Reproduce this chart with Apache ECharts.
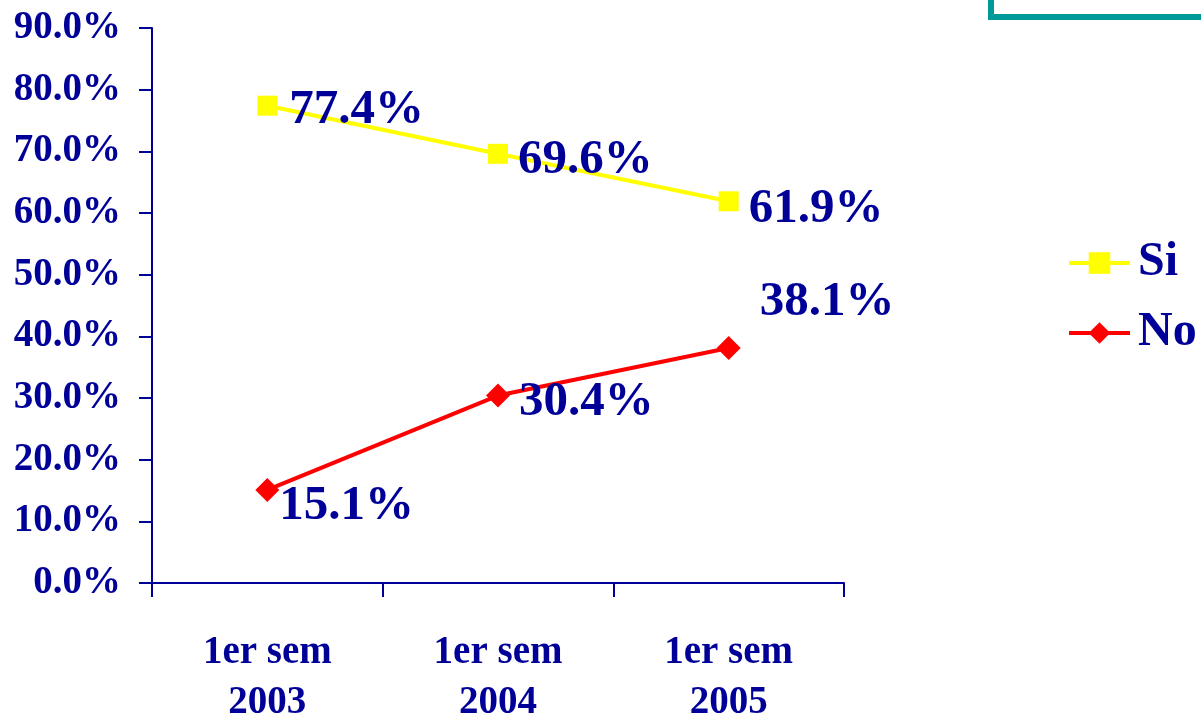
<!DOCTYPE html>
<html>
<head>
<meta charset="utf-8">
<script src="https://cdn.jsdelivr.net/npm/echarts@6/dist/echarts.min.js"></script>
<style>
html,body{margin:0;padding:0;background:#fff;}
#chart{width:1201px;height:718px;}
</style>
</head>
<body>
<div id="chart"></div>
<script>
var categories = ['1er sem\n2003', '1er sem\n2004', '1er sem\n2005'];
var siValues = [77.4, 69.6, 61.9];
var noValues = [15.1, 30.4, 38.1];
var yTicks = {min: 0, max: 90, interval: 10};

var siLabelOffsets = [[12, 5], [10, 7], [10, 8]];
var noLabelOffsets = [[0, 16], [9, 7], [19, -46]];

var NAVY = '#000099';
var FONT = '"Liberation Serif", "Times New Roman", serif';

function withOffsets(vals, offs) {
  return vals.map(function (v, i) {
    return { value: v, label: { offset: offs[i] } };
  });
}

var chart = echarts.init(document.getElementById('chart'));
chart.setOption({
  animation: false,
  backgroundColor: '#fff',
  grid: { left: 152, right: 357, top: 28, bottom: 135, containLabel: false, outerBoundsMode: 'none' },
  graphic: [{
    type: 'rect',
    shape: { x: 991, y: -30, width: 260, height: 47 },
    style: { fill: '#fff', stroke: '#009999', lineWidth: 6 },
    z: 10
  }],
  legend: {
    orient: 'vertical',
    left: 1067,
    top: 238,
    padding: 0,
    itemWidth: 61,
    itemHeight: 27,
    itemGap: 20,
    lineStyle: { width: 4 },
    textStyle: { color: NAVY, fontFamily: FONT, fontWeight: 'bold', fontSize: 48, lineHeight: 50, padding: [0, 0, 0, 3] },
    data: ['Si', 'No']
  },
  xAxis: {
    type: 'category',
    data: categories,
    boundaryGap: true,
    axisLine: { lineStyle: { color: NAVY, width: 2 } },
    axisTick: { show: true, length: 14, lineStyle: { color: NAVY, width: 2 } },
    axisLabel: { color: NAVY, fontFamily: FONT, fontWeight: 'bold', fontSize: 39, lineHeight: 50, margin: 45 },
    splitLine: { show: false }
  },
  yAxis: {
    type: 'value',
    min: yTicks.min,
    max: yTicks.max,
    interval: yTicks.interval,
    axisLine: { show: true, lineStyle: { color: NAVY, width: 2 } },
    axisTick: { show: true, length: 13, lineStyle: { color: NAVY, width: 2 } },
    axisLabel: {
      color: NAVY, fontFamily: FONT, fontWeight: 'bold', fontSize: 39, margin: 31,
      formatter: function (v) { return v.toFixed(1) + '%'; }
    },
    splitLine: { show: false }
  },
  series: [
    {
      name: 'Si',
      type: 'line',
      data: withOffsets(siValues, siLabelOffsets),
      symbol: 'rect',
      symbolSize: 20,
      itemStyle: { color: '#FFFF00' },
      lineStyle: { color: '#FFFF00', width: 4 },
      label: {
        show: true, position: 'right', distance: 0,
        color: NAVY, fontFamily: FONT, fontWeight: 'bold', fontSize: 49,
        formatter: function (p) { return p.value.toFixed(1) + '%'; }
      }
    },
    {
      name: 'No',
      type: 'line',
      data: withOffsets(noValues, noLabelOffsets),
      symbol: 'diamond',
      symbolSize: 24,
      itemStyle: { color: '#FF0000' },
      lineStyle: { color: '#FF0000', width: 4 },
      label: {
        show: true, position: 'right', distance: 0,
        color: NAVY, fontFamily: FONT, fontWeight: 'bold', fontSize: 49,
        formatter: function (p) { return p.value.toFixed(1) + '%'; }
      }
    }
  ]
});
</script>
</body>
</html>
